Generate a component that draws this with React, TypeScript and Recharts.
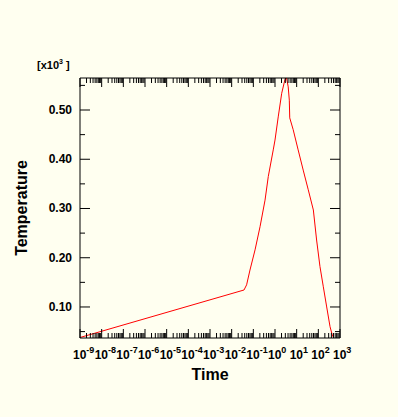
import { LineChart, Line, XAxis, YAxis } from 'recharts';

// time (s) and temperature (x10^3)
const times = [
  1e-9, 0.0372, 0.049, 0.07, 0.12, 0.204, 0.347, 0.49, 0.83, 1.0, 1.41, 2.04, 2.88,
  3.31, 4.07, 4.57, 4.79, 6.92, 11.7, 20.0, 34.3, 58.9, 83.2, 119, 170, 243, 347, 457,
];
const temps = [
  0.038, 0.1345, 0.145, 0.175, 0.216, 0.263, 0.317, 0.365, 0.419, 0.439, 0.486, 0.534, 0.562,
  0.568, 0.547, 0.52, 0.484, 0.46, 0.419, 0.378, 0.338, 0.297, 0.236, 0.182, 0.141, 0.1, 0.06, 0.04,
];

const decadeExps = [-9, -8, -7, -6, -5, -4, -3, -2, -1, 0, 1, 2, 3];
const minorMults = [2, 3, 4, 5, 6, 7, 8, 9];
const yTicks = [0.05, 0.1, 0.15, 0.2, 0.25, 0.3, 0.35, 0.4, 0.45, 0.5, 0.55];

const data = times.map((t, i) => ({ time: t, temp: temps[i] }));

const xTicks: number[] = [];
decadeExps.forEach((e, i) => {
  xTicks.push(Math.pow(10, e));
  if (i < decadeExps.length - 1) minorMults.forEach((m) => xTicks.push(m * Math.pow(10, e)));
});

const font = '"Liberation Sans", Arial, Helvetica, sans-serif';
const X_DOMAIN: [number, number] = [1e-9, 1e3];
const Y_DOMAIN: [number, number] = [0.037, 0.565];

const isDecade = (v: number) => {
  const l = Math.log10(v);
  return Math.abs(l - Math.round(l)) < 1e-6;
};
const isMajorY = (v: number) => Math.round(v * 100) % 10 === 0;

function BottomTick({ x, y, payload }: any) {
  const v = payload.value;
  const major = isDecade(v);
  return (
    <g>
      <line x1={x} x2={x} y1={y} y2={y - (major ? 9 : 5)} stroke="#000" />
      {major && (
        <text x={x - 7} y={y + 21} fontSize={12} fontWeight="bold" fontFamily={font} fill="#000">
          10
          <tspan dy={-6} fontSize={9}>
            {Math.round(Math.log10(v))}
          </tspan>
        </text>
      )}
    </g>
  );
}

function TopTick({ x, y, payload }: any) {
  const major = isDecade(payload.value);
  return <line x1={x} x2={x} y1={y} y2={y + (major ? 9 : 5)} stroke="#000" />;
}

function LeftTick({ x, y, payload }: any) {
  const v = payload.value;
  const major = isMajorY(v);
  return (
    <g>
      <line x1={x} x2={x + (major ? 10 : 5)} y1={y} y2={y} stroke="#000" />
      {major && (
        <text x={x - 8} y={y + 4} textAnchor="end" fontSize={12} fontWeight="bold" fontFamily={font} fill="#000">
          {v.toFixed(2)}
        </text>
      )}
    </g>
  );
}

function RightTick({ x, y, payload }: any) {
  const major = isMajorY(payload.value);
  return <line x1={x} x2={x - (major ? 10 : 5)} y1={y} y2={y} stroke="#000" />;
}

export default function App() {
  return (
    <div style={{ position: 'absolute', left: 0, top: 0, width: 398, height: 417, background: '#FFFFF0' }}>
      <LineChart width={398} height={417} data={data} margin={{ top: 77, right: 57, left: 10, bottom: 29 }}>
        <XAxis
          xAxisId="main"
          dataKey="time"
          type="number"
          scale="log"
          domain={X_DOMAIN}
          allowDataOverflow
          ticks={xTicks}
          interval={0}
          tickSize={0}
          tickMargin={0}
          tickLine={false}
          axisLine={{ stroke: '#000' }}
          height={50}
          tick={(p: any) => <BottomTick {...p} />}
          label={(p: any) => {
            const vb = p.viewBox;
            return (
              <text x={vb.x + vb.width / 2} y={vb.y + 42} textAnchor="middle" fontSize={16} fontWeight="bold" fontFamily={font} fill="#000">
                Time
              </text>
            );
          }}
        />
        <XAxis
          xAxisId="top"
          orientation="top"
          dataKey="time"
          type="number"
          scale="log"
          domain={X_DOMAIN}
          allowDataOverflow
          ticks={xTicks}
          interval={0}
          tickSize={0}
          tickMargin={0}
          tickLine={false}
          axisLine={{ stroke: '#000' }}
          height={1}
          tick={(p: any) => <TopTick {...p} />}
          label={(p: any) => {
            const vb = p.viewBox;
            return (
              <text x={vb.x - 43} y={vb.y - 8} fontSize={11} fontWeight="bold" fontFamily={font} fill="#000">
                [x10
                <tspan dy={-5} fontSize={7}>3</tspan>
                <tspan dy={5}> ]</tspan>
              </text>
            );
          }}
        />
        <YAxis
          yAxisId="left"
          type="number"
          domain={Y_DOMAIN}
          allowDataOverflow
          ticks={yTicks}
          interval={0}
          tickSize={0}
          tickMargin={0}
          tickLine={false}
          axisLine={{ stroke: '#000' }}
          width={70}
          tick={(p: any) => <LeftTick {...p} />}
          label={(p: any) => {
            const vb = p.viewBox;
            const cy = vb.y + vb.height / 2;
            return (
              <text x={27} y={cy} transform={`rotate(-90, 27, ${cy})`} textAnchor="middle" fontSize={16} fontWeight="bold" fontFamily={font} fill="#000">
                Temperature
              </text>
            );
          }}
        />
        <YAxis
          yAxisId="right"
          orientation="right"
          type="number"
          domain={Y_DOMAIN}
          allowDataOverflow
          ticks={yTicks}
          interval={0}
          tickSize={0}
          tickMargin={0}
          tickLine={false}
          axisLine={{ stroke: '#000' }}
          width={1}
          tick={(p: any) => <RightTick {...p} />}
        />
        <Line
          xAxisId="main"
          yAxisId="left"
          dataKey="temp"
          type="linear"
          stroke="#FF0000"
          strokeWidth={1}
          dot={false}
          isAnimationActive={false}
        />
      </LineChart>
    </div>
  );
}
